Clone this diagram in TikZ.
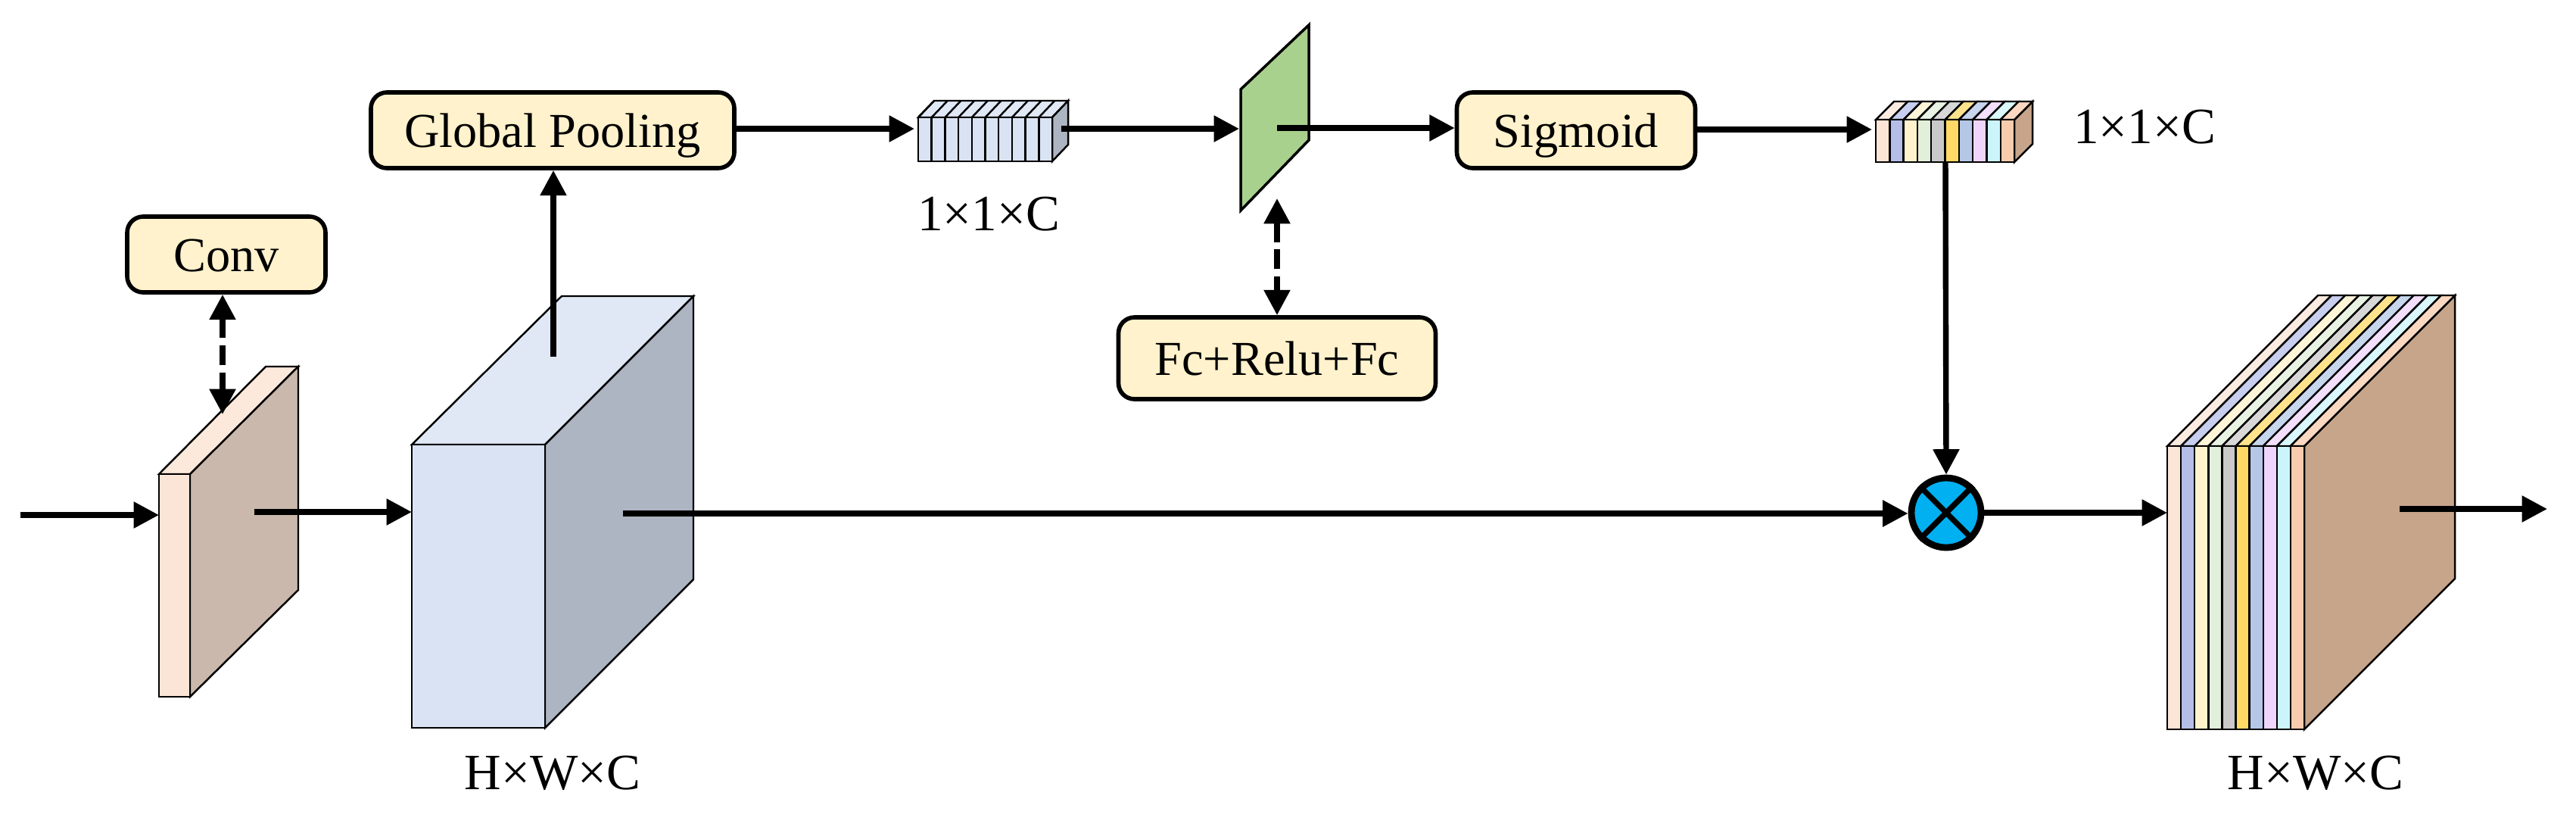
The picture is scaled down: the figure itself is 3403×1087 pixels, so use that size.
\documentclass[tikz,border=0pt]{standalone}
\usepackage{fontspec}
\setmainfont{Liberation Serif}
\usetikzlibrary{arrows.meta}
\definecolor{c1}{HTML}{FBE5D6}
\definecolor{c2}{HTML}{B4BEE8}
\definecolor{c3}{HTML}{FFF2CC}
\definecolor{c4}{HTML}{E2EFDA}
\definecolor{c5}{HTML}{C9C9C9}
\definecolor{c6}{HTML}{FFD966}
\definecolor{c7}{HTML}{B4C7E7}
\definecolor{c8}{HTML}{EFD4FB}
\definecolor{c9}{HTML}{CCF4FB}
\definecolor{c10}{HTML}{F8CBAD}
\definecolor{frontblue}{HTML}{DAE3F3}
\definecolor{topblue}{HTML}{E0E8F5}
\definecolor{sideblue}{HTML}{ADB5C3}
\definecolor{sidepeach}{HTML}{C9B8AB}
\definecolor{sidebrown}{HTML}{C7A58B}
\definecolor{plategreen}{HTML}{A9D18E}
\definecolor{mulblue}{HTML}{00B0F0}
\tikzset{
	box/.style={draw,line width=1.6pt,rounded corners=6pt,fill=c3,inner sep=0pt,text height=13pt,text depth=0pt,font=\fontsize{18.3}{20}\selectfont},
	lab/.style={inner sep=0pt,font=\fontsize{19.1}{20}\selectfont},
	face/.style={draw,line width=0.7pt,line join=miter},
	arr/.style={-{Triangle[length=9.5pt,width=9.5pt]},line width=2.1pt},
	dasharr/.style={{Triangle[length=9.5pt,width=9.5pt]}-{Triangle[length=9.5pt,width=9.5pt]},line width=2.1pt,dash pattern=on 7.4pt off 2.8pt}
}
% #1 x, #2 top, #3 bottom, #4 stripe width, #5 depth
\newcommand{\stripes}[5]{
	\fill[sidebrown,draw=black,line width=0.7pt] ({#1+10*#4},#2)--({#1+10*#4+#5},{#2-#5})--({#1+10*#4+#5},{#3-#5})--({#1+10*#4},#3)--cycle;
	\foreach \i in {1,...,10}{
		\path[face,fill=c\i!75!white] ({#1+(\i-1)*#4},#2)--({#1+(\i-1)*#4+#5},{#2-#5})--({#1+\i*#4+#5},{#2-#5})--({#1+\i*#4},#2)--cycle;
		\path[face,fill=c\i] ({#1+(\i-1)*#4},#2) rectangle ({#1+\i*#4},#3);
	}
}
\begin{document}
\begin{tikzpicture}[x=0.01cm,y=-0.01cm]
	\useasboundingbox (0,0) rectangle (3403,1087);

	% thin block
	\path[face,fill=c1!85!white] (210,626)--(351,484)--(394,484)--(251,626)--cycle;
	\path[face,fill=sidepeach] (251,626)--(394,484)--(394,779)--(251,920)--cycle;
	\node[face,fill=c1,minimum width=41*0.01cm,minimum height=294*0.01cm,inner sep=0pt] (thin) at (230.5,773) {};

	% big block
	\path[face,fill=topblue] (544,587)--(742,391)--(916,391)--(720,587)--cycle;
	\path[face,fill=sideblue] (720,587)--(916,391)--(916,765)--(720,961)--cycle;
	\node[face,fill=frontblue,minimum width=176*0.01cm,minimum height=374*0.01cm,inner sep=0pt] (big) at (632,774) {};

	% small blue cube
	\path[face,fill=topblue] (1213,155)--(1234,133)--(1411,133)--(1390,155)--cycle;
	\path[face,fill=sideblue] (1390,155)--(1411,133)--(1411,191)--(1390,213)--cycle;
	\foreach \x in {0,...,9}{
		\path[face,fill=topblue] ({1213+\x*17.7},155)--({1234+\x*17.7},133);
		\path[face,fill=frontblue] ({1213+\x*17.7},155) rectangle ({1230.7+\x*17.7},213);
	}
	\node[inner sep=0pt,minimum width=177*0.01cm,minimum height=58*0.01cm] (cube1) at (1301.5,184) {};

	% green plate
	\draw[line width=1pt,fill=plategreen] (1639,118)--(1729,33)--(1729,185)--(1639,278)--cycle;
	\node[inner sep=0pt,minimum width=90*0.01cm,minimum height=160*0.01cm] (plate) at (1684,170) {};

	% coloured blocks
	\stripes{2478}{158}{214}{18.3}{24}
	\node[inner sep=0pt,minimum width=183*0.01cm,minimum height=56*0.01cm] (cube2) at (2569.5,186) {};
	\stripes{2863}{589}{963}{18.1}{199}
	\node[inner sep=0pt,minimum width=181*0.01cm,minimum height=374*0.01cm] (stack) at (2953.5,776) {};

	\node[box,minimum width=262*0.01cm,minimum height=100*0.01cm] (conv) at (299,336) {Conv};
	\node[box,minimum width=480*0.01cm,minimum height=100*0.01cm] (pool) at (730,172) {Global Pooling};
	\node[box,minimum width=315*0.01cm,minimum height=100*0.01cm] (sig) at (2082,172) {Sigmoid};
	\node[box,minimum width=419*0.01cm,minimum height=108*0.01cm] (fc) at (1687,473) {Fc+Relu+Fc};

	\node[circle,draw,line width=2.5pt,fill=mulblue,minimum size=92*0.01cm,inner sep=0pt] (mul) at (2571,677) {};
	\draw[line width=2.1pt] (mul.45)--(mul.225) (mul.135)--(mul.315);

	\node[lab] (l1) at (730,1021) {H×W×C};
	\node[lab] (l2) at (1306,283) {1×1×C};
	\node[lab] (l3) at (2833,168) {1×1×C};
	\node[lab] (l4) at (3059,1021) {H×W×C};

	\coordinate (in) at (27,680);
	\coordinate (thinin) at (210,680);
	\coordinate (thinout) at (336,676);
	\coordinate (bigin) at (544,676);
	\coordinate (bigup) at (731,471);
	\coordinate (bigout) at (823,678);
	\coordinate (cube1in) at (1208,170);
	\coordinate (cube1out) at (1402,170);
	\coordinate (platein) at (1637,170);
	\coordinate (plateout) at (1687,169);
	\coordinate (cube2in) at (2473,171);
	\coordinate (cube2out) at (2570,214);
	\coordinate (stackin) at (2863,677);
	\coordinate (stackout) at (3170,672);
	\coordinate (out) at (3365,672);
	\coordinate (thintop) at (294,547);
	\coordinate (platelow) at (1687,262);

	\draw[arr] (in)--(thinin);
	\draw[arr] (thinout)--(bigin);
	\draw[arr] (bigup)--(pool.south -| bigup);
	\draw[arr] (bigout)--(mul.west |- bigout);
	\draw[arr] (pool.east |- cube1in)--(cube1in);
	\draw[arr] (cube1out)--(platein);
	\draw[arr] (plateout)--(sig.west |- plateout);
	\draw[arr] (sig.east |- cube2in)--(cube2in);
	\draw[arr] (cube2out)--(mul.north);
	\draw[arr] (mul.east)--(stackin);
	\draw[arr] (stackout)--(out);
	\draw[dasharr] (conv.south -| thintop)--(thintop);
	\draw[dasharr] (platelow)--(fc.north);
\end{tikzpicture}
\end{document}
